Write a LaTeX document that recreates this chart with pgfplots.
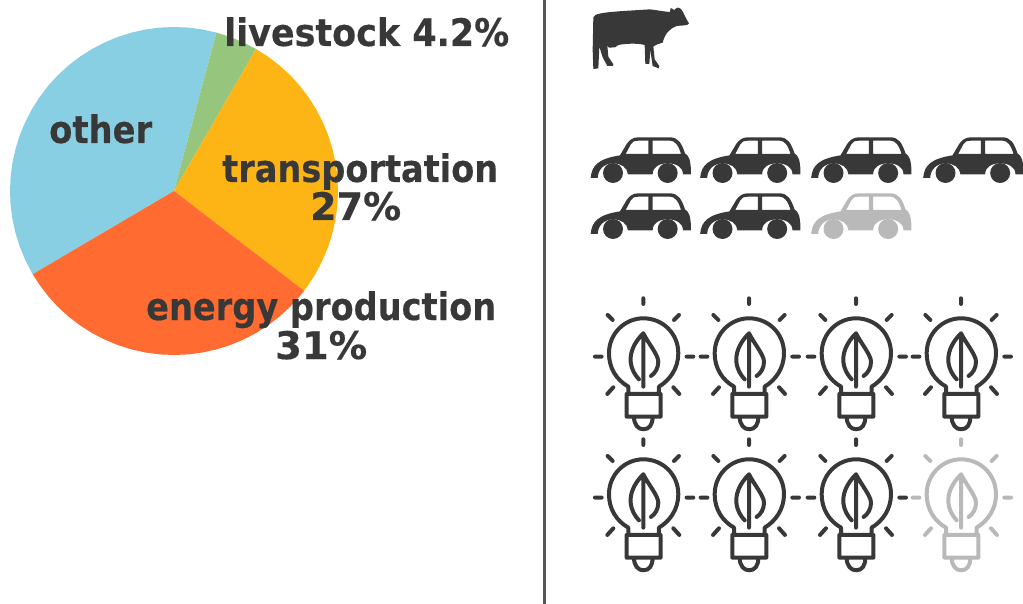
\documentclass[border=0pt]{standalone}
\usepackage{pgfplots}
\pgfplotsset{compat=1.18}
\usepackage{graphicx}
\usepackage{fontspec}
\setmainfont[BoldFeatures={FakeBold=0.35}]{DejaVu Sans}
\usepgflibrary{svg.path}
\definecolor{cOther}{HTML}{89CFE3}
\definecolor{cLive}{HTML}{96C67E}
\definecolor{cTrans}{HTML}{FDB515}
\definecolor{cEnergy}{HTML}{FF6B30}
\definecolor{ink}{HTML}{383838}
\definecolor{fade}{HTML}{B9B9B9}
\definecolor{rule}{HTML}{555555}
\pgfdeclareplotmark{cow}{%
  \pgftransformcm{.3333}{0}{0}{-.3333}{\pgfpoint{-60pt}{40pt}}%
  \pgfpathsvg{M 40 52 C 44 42 60 38 130 33 L 210 28 C 240 32 255 35 270 36 L 272 24 L 283 30 C 290 22 298 20 302 26 C 310 34 318 58 327 70 C 326 78 300 76 290 78 C 270 85 255 100 248 128 C 240 130 225 135 220 140 L 224 178 L 238 198 L 236 205 L 218 198 L 211 150 L 208 192 L 196 192 L 194 135 C 170 128 130 132 115 135 L 105 142 L 87 143 L 82 137 L 85 170 L 100 193 L 98 198 L 82 198 L 68 172 L 58 140 L 55 205 L 40 207 L 38 150 Z}%
  \pgfusepathqfill}
\pgfdeclareplotmark{car}{%
  \pgftransformcm{.3333}{0}{0}{-.3333}{\pgfpoint{-56pt}{30pt}}%
  \pgfseteorule
  \pgfpathsvg{M 17 144 C 20 105 42 86 105 76 L 125 42 C 135 28 145 22 160 22 L 255 22 C 280 22 290 40 300 70 C 312 78 318 90 318 133 L 294 133 C 294 110 272 100 248 100 C 224 100 203 110 203 133 L 129 133 C 127 112 108 100 84 100 C 58 100 39 118 38 144 Z
  M 122 72 L 138 42 C 142 34 150 32 160 32 L 190 32 L 190 72 Z
  M 203 32 L 255 32 C 270 32 280 45 288 72 L 203 72 Z}%
  \pgfusepathqfill
  \pgfpathcircle{\pgfpoint{84pt}{129pt}}{30pt}%
  \pgfpathcircle{\pgfpoint{248pt}{129pt}}{30pt}%
  \pgfusepathqfill}
\pgfdeclareplotmark{bulb}{%
  \pgfsetlinewidth{4pt}\pgfsetroundcap\pgfsetroundjoin
  \pgftransformcm{.3333}{0}{0}{-.3333}{\pgfpoint{-53.33pt}{63.33pt}}%
  \pgfpathsvg{M 160 25 L 160 42 M 53 75 L 68 90 M 267 75 L 252 90 M 15 200 L 35 200 M 290 200 L 310 200 M 52 312 L 70 292 M 268 312 L 250 292
  M 115 312 L 115 290 C 80 270 57 235 57 190 C 57 130 105 85 160 85 C 218 85 265 130 265 190 C 265 235 240 270 207 290 L 207 312
  M 110 312 L 212 312 L 212 380 L 110 380 Z
  M 132 380 C 132 405 145 418 160 418 C 178 418 188 405 188 380
  M 160 130 L 160 290
  M 147 268 C 135 255 125 240 122 215 C 120 190 130 160 160 130 C 175 160 205 195 205 215 C 205 235 195 250 183 258}%
  \pgfusepathqstroke}
\newcommand{\lab}[4]{\node[anchor=base west,inner sep=0pt,text=ink,font=\fontsize{38pt}{38pt}\selectfont\bfseries] at (axis cs:#1,#2) {\resizebox{#3pt}{\height}{#4}};}
\begin{document}
\begin{tikzpicture}
\path[use as bounding box] (0,0) rectangle (1023pt,604pt);
\begin{axis}[width=1023pt,height=604pt,scale only axis,hide axis,
  xmin=0,xmax=1023,ymin=0,ymax=604,y dir=reverse]
% other 37.8%
\addplot[fill=cOther,draw=none] coordinates {(174,191)(32.7,274.2)(32,273)(25.4,260.3)(19.9,247.1)(15.6,233.4)(12.5,219.5)(10.6,205.3)(10,191)(10.6,176.7)(12.5,162.5)(15.6,148.6)(19.9,134.9)(25.4,121.7)(32,109)(39.7,96.9)(48.4,85.6)(58,75)(68.6,65.4)(79.9,56.7)(92,49)(104.7,42.4)(117.9,36.9)(131.6,32.6)(145.5,29.5)(159.7,27.6)(174,27)(188.3,27.6)(202.5,29.5)(216.4,32.6)} --cycle;
% livestock 4.2%
\addplot[fill=cLive,draw=none] coordinates {(174,191)(216.4,32.6)(230.1,36.9)(243.3,42.4)(256,49)} --cycle;
% transportation 27%
\addplot[fill=cTrans,draw=none] coordinates {(174,191)(256,49)(268.1,56.7)(279.4,65.4)(290,75)(299.6,85.6)(308.3,96.9)(316,109)(322.6,121.7)(328.1,134.9)(332.4,148.6)(335.5,162.5)(337.4,176.7)(338,191)(337.4,205.3)(335.5,219.5)(332.4,233.4)(328.1,247.1)(322.6,260.3)(316,273)(308.3,285.1)(304.1,290.8)} --cycle;
% energy production 31%
\addplot[fill=cEnergy,draw=none] coordinates {(174,191)(304.1,290.8)(299.6,296.4)(290,307)(279.4,316.6)(268.1,325.3)(256,333)(243.3,339.6)(230.1,345.1)(216.4,349.4)(202.5,352.5)(188.3,354.4)(174,355)(159.7,354.4)(145.5,352.5)(131.6,349.4)(117.9,345.1)(104.7,339.6)(92,333)(79.9,325.3)(68.6,316.6)(58,307)(48.4,296.4)(39.7,285.1)(32.7,274.2)} --cycle;
% divider
\addplot[rule,line width=2.6pt] coordinates {(544.5,0)(544.5,604)};
% pictograms
\addplot[only marks,mark=cow,color=ink] coordinates {(640,40)};
\addplot[only marks,mark=car,color=ink] coordinates {(641,160)(750.5,160)(861.5,160)(973.5,160)(641,216)(750.5,216)};
\addplot[only marks,mark=car,color=fade] coordinates {(861.5,216)};
\addplot[only marks,mark=bulb,color=ink] coordinates {(643.3,353.3)(749,353.3)(856,353.3)(961,353.3)(643.3,494.3)(749,494.3)(856,494.3)};
\addplot[only marks,mark=bulb,color=fade] coordinates {(961,494.3)};
% labels
\lab{224}{46}{285}{livestock 4.2\%}
\lab{49}{143}{103}{other}
\lab{222}{182}{276}{transportation}
\lab{310}{220}{91}{27\%}
\lab{146}{320}{350}{energy production}
\lab{275}{359}{92}{31\%}
\end{axis}
\end{tikzpicture}
\end{document}
